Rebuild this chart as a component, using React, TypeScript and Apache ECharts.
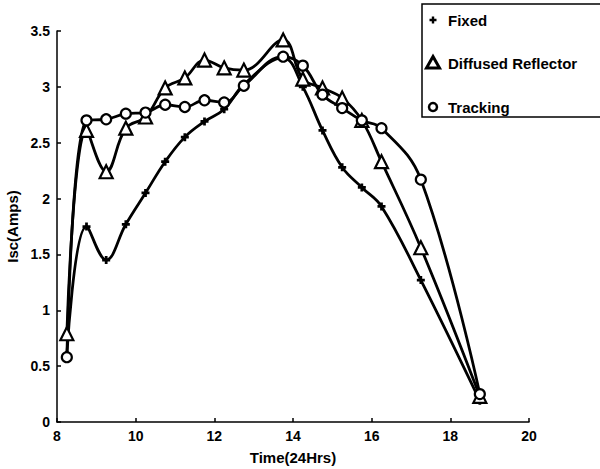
import React, { useEffect, useRef } from "react";
import * as echarts from "echarts";

const hours = [8.25, 8.75, 9.25, 9.75, 10.25, 10.75, 11.25, 11.75, 12.25, 12.75, 13.75, 14.25, 14.75, 15.25, 15.75, 16.25, 17.25, 18.75];
const fixed = [0.6, 1.75, 1.45, 1.77, 2.05, 2.33, 2.55, 2.69, 2.8, 3.02, 3.26, 3.0, 2.61, 2.28, 2.1, 1.93, 1.27, 0.19];
const diffused = [0.79, 2.61, 2.24, 2.63, 2.73, 2.99, 3.08, 3.24, 3.17, 3.15, 3.42, 3.07, 2.99, 2.9, 2.7, 2.33, 1.56, 0.23];
const tracking = [0.58, 2.7, 2.71, 2.76, 2.77, 2.84, 2.82, 2.88, 2.86, 3.01, 3.27, 3.19, 2.93, 2.81, 2.7, 2.63, 2.17, 0.25];
const seriesNames = ["Fixed", "Diffused Reflector", "Tracking"];

const PLUS = "path://M-1.1,-3.2 L1.1,-3.2 L1.1,-1.1 L3.2,-1.1 L3.2,1.1 L1.1,1.1 L1.1,3.2 L-1.1,3.2 L-1.1,1.1 L-3.2,1.1 L-3.2,-1.1 L-1.1,-1.1 Z";
const FONT = "Liberation Sans, Arial, sans-serif";

export default function App() {
  const ref = useRef<HTMLDivElement>(null);
  useEffect(() => {
    if (!ref.current) return;
    const chart = echarts.init(ref.current, null, { renderer: "svg" });
    const pair = (ys: number[]) => hours.map((h, i) => [h, ys[i]]);
    const lineStyle = { color: "#000", width: 2.8 };
    const hidden = { color: "rgba(0,0,0,0)", borderWidth: 0 };
    const lx = 433;
    chart.setOption({
      animation: false,
      backgroundColor: "#fff",
      textStyle: { fontFamily: FONT },
      grid: { left: 57, top: 31, right: 71, bottom: 47, containLabel: false, outerBoundsMode: "none" },
      xAxis: {
        type: "value",
        min: 8,
        max: 20,
        interval: 2,
        name: "Time(24Hrs)",
        nameLocation: "middle",
        nameGap: 28,
        nameTextStyle: { color: "#000", fontWeight: "bold", fontSize: 15, fontFamily: FONT },
        axisLine: { lineStyle: { color: "#000", width: 1.5 } },
        axisTick: { inside: true, length: 4, lineStyle: { color: "#000", width: 1.5 } },
        axisLabel: { color: "#000", fontWeight: "bold", fontSize: 14, margin: 7, fontFamily: FONT },
        splitLine: { show: false },
      },
      yAxis: {
        type: "value",
        min: 0,
        max: 3.5,
        interval: 0.5,
        name: "Isc(Amps)",
        nameLocation: "middle",
        nameGap: 26,
        nameRotate: 90,
        nameTextStyle: { color: "#000", fontWeight: "bold", fontSize: 15, fontFamily: FONT },
        axisLine: { show: true, lineStyle: { color: "#000", width: 1.5 } },
        axisTick: { show: true, inside: true, length: 4, lineStyle: { color: "#000", width: 1.5 } },
        axisLabel: { color: "#000", fontWeight: "bold", fontSize: 14, margin: 7, fontFamily: FONT },
        splitLine: { show: false },
      },
      legend: {
        orient: "vertical",
        left: 427,
        top: 12.5,
        padding: 0,
        itemWidth: 12,
        itemHeight: 12,
        itemGap: 28.5,
        textStyle: { color: "#000", fontWeight: "bold", fontSize: 15, fontFamily: FONT, padding: [0, 0, 0, 4] },
        data: [
          { name: seriesNames[0], icon: "rect", itemStyle: hidden },
          { name: seriesNames[1], icon: "rect", itemStyle: hidden },
          { name: seriesNames[2], icon: "rect", itemStyle: hidden },
        ],
      },
      graphic: [
        {
          type: "rect",
          shape: { x: 422, y: 4, width: 200, height: 113 },
          style: { fill: "none", stroke: "#000", lineWidth: 1.5 },
          silent: true,
        },
        {
          type: "polygon",
          shape: {
            points: [
              [lx - 1.2, 16.5], [lx + 1.2, 16.5], [lx + 1.2, 18.8], [lx + 3.5, 18.8], [lx + 3.5, 21.2], [lx + 1.2, 21.2],
              [lx + 1.2, 23.5], [lx - 1.2, 23.5], [lx - 1.2, 21.2], [lx - 3.5, 21.2], [lx - 3.5, 18.8], [lx - 1.2, 18.8],
            ],
          },
          style: { fill: "#000" },
          silent: true,
        },
        {
          type: "polygon",
          shape: { points: [[lx, 56.5], [lx + 6.5, 68], [lx - 6.5, 68]] },
          style: { fill: "#fff", stroke: "#000", lineWidth: 3 },
          silent: true,
        },
        {
          type: "circle",
          shape: { cx: lx, cy: 107, r: 4 },
          style: { fill: "#fff", stroke: "#000", lineWidth: 2.5 },
          silent: true,
        },
      ],
      series: [
        {
          name: seriesNames[0],
          type: "line",
          data: pair(fixed),
          smooth: 0.4,
          symbol: PLUS,
          symbolSize: 8,
          lineStyle,
          itemStyle: { color: "#000", borderWidth: 0 },
        },
        {
          name: seriesNames[1],
          type: "line",
          data: pair(diffused),
          smooth: 0.4,
          symbol: "triangle",
          symbolSize: 13,
          lineStyle,
          itemStyle: { color: "#fff", borderColor: "#000", borderWidth: 2.2 },
        },
        {
          name: seriesNames[2],
          type: "line",
          data: pair(tracking),
          smooth: 0.4,
          symbol: "circle",
          symbolSize: 10,
          lineStyle,
          itemStyle: { color: "#fff", borderColor: "#000", borderWidth: 2.2 },
        },
      ],
    });
    return () => chart.dispose();
  }, []);
  return <div ref={ref} style={{ position: "fixed", left: 0, top: 0, width: 600, height: 469 }} />;
}
